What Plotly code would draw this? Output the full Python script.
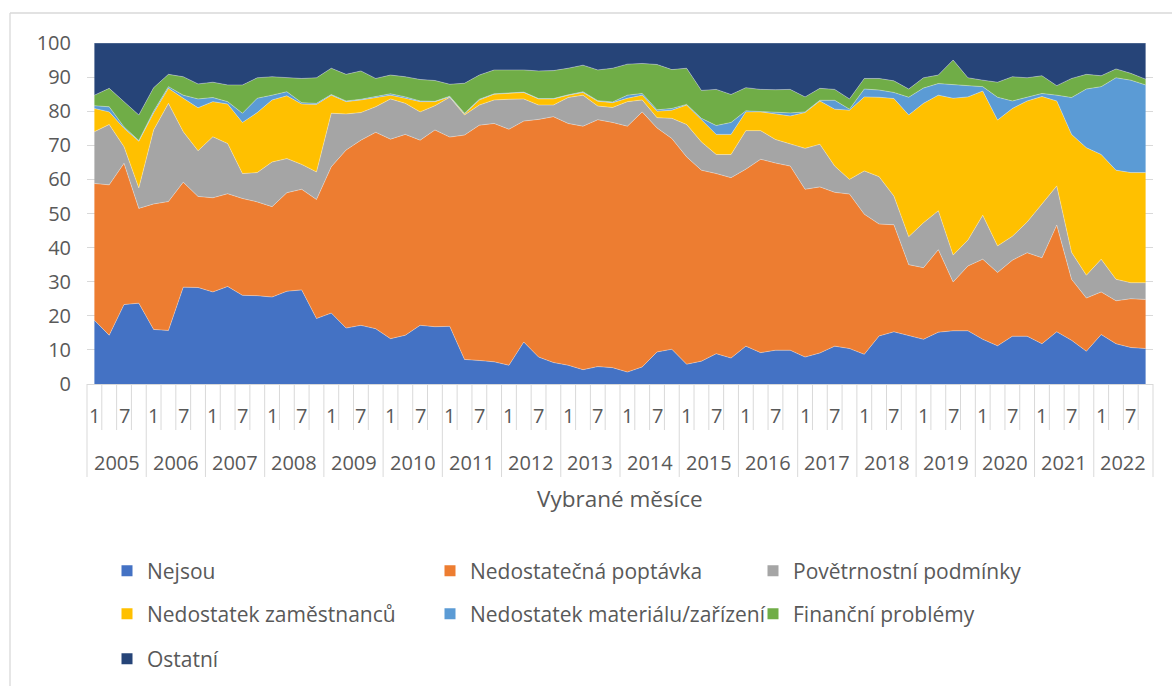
import plotly.graph_objects as go

years = list(range(2005, 2023))
months = [1, 4, 7, 10]
shown_months = [1, 7]

series_names = [
    "Nejsou",
    "Nedostatečná poptávka",
    "Povětrnostní podmínky",
    "Nedostatek zaměstnanců",
    "Nedostatek materiálu/zařízení",
    "Finanční problémy",
    "Ostatní",
]
colors = ["#4472C4", "#ED7D31", "#A5A5A5", "#FFC000", "#5B9BD5", "#70AD47", "#264478"]

nejsou = [18.7, 14.3, 23.3, 23.7, 16.0, 15.7, 28.4, 28.3, 27.0, 28.6, 26.0, 25.9,
          25.5, 27.2, 27.6, 19.2, 20.8, 16.4, 17.2, 16.2, 13.3, 14.3, 17.2, 16.8,
          16.9, 7.2, 6.9, 6.5, 5.5, 12.3, 7.9, 6.3, 5.5, 4.2, 5.1, 4.8,
          3.5, 5.0, 9.4, 10.2, 5.8, 6.7, 8.9, 7.6, 11.1, 9.2, 9.9, 9.9,
          7.9, 9.1, 11.1, 10.4, 8.7, 14.1, 15.3, 14.1, 13.1, 15.2, 15.6, 15.6,
          13.1, 11.2, 14.0, 14.0, 11.8, 15.3, 12.8, 9.6, 14.5, 11.8, 10.7, 10.4]
poptavka = [40.1, 44.1, 41.4, 27.8, 36.8, 37.8, 30.8, 26.7, 27.6, 27.2, 28.4, 27.5,
            26.5, 28.9, 29.5, 34.9, 42.9, 52.2, 54.3, 57.6, 58.5, 58.9, 54.3, 57.7,
            55.5, 65.8, 69.0, 69.9, 69.2, 64.8, 69.7, 72.1, 70.9, 71.4, 72.4, 71.9,
            72.1, 74.8, 65.7, 61.8, 60.8, 56.0, 52.8, 52.9, 51.9, 56.7, 54.9, 54.0,
            49.2, 48.7, 45.1, 45.3, 41.1, 32.8, 31.4, 20.9, 21.0, 24.2, 14.3, 19.0,
            23.5, 21.5, 22.3, 24.5, 25.2, 31.3, 17.9, 15.6, 12.5, 12.6, 14.3, 14.4]
pocasi = [15.2, 17.7, 4.9, 6.0, 21.7, 28.8, 14.8, 13.4, 17.9, 14.7, 7.3, 8.6,
          13.1, 10.0, 7.3, 8.1, 15.7, 10.6, 8.1, 7.5, 11.8, 9.1, 8.3, 7.1,
          11.7, 5.9, 5.9, 6.9, 8.8, 6.5, 4.2, 3.4, 7.6, 9.1, 4.0, 4.4,
          7.2, 3.5, 3.0, 5.9, 9.5, 8.3, 5.6, 6.8, 11.3, 8.4, 6.9, 6.6,
          12.0, 12.5, 7.7, 4.3, 12.7, 13.9, 8.4, 8.2, 13.2, 11.4, 7.9, 7.6,
          12.9, 7.8, 7.0, 9.0, 15.9, 11.5, 7.9, 6.7, 9.6, 6.3, 4.7, 4.9]
zamestnanci = [6.8, 3.7, 5.4, 13.7, 5.0, 4.4, 9.8, 12.6, 10.3, 11.6, 15.0, 17.6,
               18.2, 18.4, 17.7, 19.8, 5.3, 3.6, 3.7, 2.7, 1.1, 1.5, 3.0, 1.2,
               0.1, 0.3, 1.5, 1.7, 1.7, 1.9, 1.8, 1.8, 0.7, 0.8, 1.4, 1.4,
               1.0, 1.4, 1.9, 2.4, 5.7, 6.4, 5.9, 5.9, 5.5, 5.5, 7.5, 8.1,
               10.5, 12.7, 16.7, 20.3, 21.7, 23.3, 28.6, 35.7, 35.0, 33.9, 46.0, 42.0,
               36.4, 36.9, 37.5, 35.5, 31.4, 24.9, 34.6, 37.4, 30.7, 32.0, 32.3, 32.3]
material = [0.8, 1.5, 0.4, 0.2, 0.5, 0.5, 0.9, 2.6, 1.2, 0.7, 2.7, 4.2,
            1.4, 1.2, 0.4, 0.3, 0.2, 0.2, 0.2, 0.2, 0.4, 0.4, 0.2, 0.1,
            0.2, 0.2, 0.2, 0.1, 0.1, 0.1, 0.1, 0.1, 0.1, 0.2, 0.2, 0.2,
            0.9, 0.5, 0.4, 0.5, 0.2, 0.5, 2.6, 3.5, 0.3, 0.2, 0.5, 0.9,
            0.2, 0.2, 2.6, 0.3, 2.3, 2.1, 1.8, 5.2, 4.5, 3.4, 3.9, 3.3,
            1.3, 6.7, 2.2, 1.2, 0.9, 1.7, 10.8, 17.2, 19.9, 27.1, 27.1, 25.7]
financni = [3.1, 5.4, 7.4, 7.5, 6.9, 3.6, 5.4, 4.4, 4.5, 4.9, 8.3, 6.0,
            5.4, 4.2, 7.1, 7.5, 7.7, 7.8, 8.3, 5.4, 5.5, 5.9, 6.3, 6.1,
            3.5, 8.8, 7.1, 7.0, 6.8, 6.5, 8.1, 8.2, 7.8, 7.8, 9.0, 9.9,
            9.1, 8.8, 13.3, 11.4, 10.6, 8.2, 10.6, 8.2, 6.8, 6.4, 6.6, 6.9,
            4.4, 3.5, 3.2, 3.0, 3.1, 3.4, 3.4, 2.4, 3.0, 2.5, 7.3, 2.3,
            1.9, 4.4, 7.1, 5.6, 5.2, 2.8, 5.6, 4.3, 3.2, 2.6, 2.0, 1.7]
ostatni = [15.3, 13.3, 17.2, 21.1, 13.1, 9.2, 9.9, 12.0, 11.5, 12.3, 12.3, 10.2,
           9.9, 10.1, 10.4, 10.2, 7.4, 9.2, 8.2, 10.4, 9.4, 9.9, 10.7, 11.0,
           12.1, 11.8, 9.4, 7.9, 7.9, 7.9, 8.2, 8.1, 7.4, 6.5, 7.9, 7.4,
           6.2, 6.0, 6.3, 7.8, 7.4, 13.9, 13.6, 15.1, 13.1, 13.6, 13.7, 13.6,
           15.8, 13.3, 13.6, 16.4, 10.4, 10.4, 11.1, 13.5, 10.2, 9.4, 5.0, 10.2,
           10.9, 11.5, 9.9, 10.2, 9.6, 12.5, 10.4, 9.2, 9.6, 7.6, 8.9, 10.6]

series_values = [nejsou, poptavka, pocasi, zamestnanci, material, financni, ostatni]

n_cat = len(years) * len(months)
x_idx = list(range(n_cat))

# plot-area geometry (pixels)
W, H = 1172, 686
L, R, T, B = 87, 1153, 43, 384
pw, ph = R - L, B - T


def px2x(px):
    return (px - L) / pw


def py2y(py):
    return (B - py) / ph


GRID = "#D9D9D9"
TXT = "#595959"
FONT = "Open Sans"

fig = go.Figure()
for name, vals, col in zip(series_names, series_values, colors):
    fig.add_trace(go.Scatter(
        x=x_idx, y=vals, name=name, stackgroup="one", mode="lines",
        line=dict(width=0.6, color="rgba(255,255,255,0.55)"),
        fillcolor=col, showlegend=False, hoverinfo="name+y",
    ))

legend_rows = [["legend"] * 3, ["legend2"] * 3, ["legend3"]]
legend_ids = [lid for row in legend_rows for lid in row]
for name, col, lid in zip(series_names, colors, legend_ids):
    fig.add_trace(go.Scatter(
        x=[None], y=[None], name=name, mode="markers",
        marker=dict(symbol="square", size=11, color=col),
        legend=lid, showlegend=True,
    ))

shapes = []
# category tick marks & year dividers below the axis
for k in range(n_cat + 1):
    is_year = (k % len(months) == 0)
    shapes.append(dict(
        type="line", xref="paper", yref="paper",
        x0=k / n_cat, x1=k / n_cat, y0=0, y1=py2y(477 if is_year else 430),
        line=dict(color=GRID, width=1),
    ))
# chart border (left & top)
shapes.append(dict(type="line", xref="paper", yref="paper",
                   x0=px2x(10), x1=px2x(1180), y0=py2y(13), y1=py2y(13),
                   line=dict(color=GRID, width=1.3)))
shapes.append(dict(type="line", xref="paper", yref="paper",
                   x0=px2x(10), x1=px2x(10), y0=py2y(13), y1=py2y(700),
                   line=dict(color=GRID, width=1.3)))

annotations = []
for yi, yr in enumerate(years):
    for mi, m in enumerate(months):
        if m in shown_months:
            annotations.append(dict(
                x=yi * len(months) + mi, xref="x", y=py2y(415), yref="paper",
                text=str(m), showarrow=False, xanchor="center", yanchor="middle",
                font=dict(family=FONT, size=20, color=TXT),
            ))
    annotations.append(dict(
        x=yi * len(months) + (len(months) - 1) / 2, xref="x", y=py2y(462), yref="paper",
        text=str(yr), showarrow=False, xanchor="center", yanchor="middle",
        font=dict(family=FONT, size=20, color=TXT),
    ))
annotations.append(dict(
    x=0.5, xref="paper", y=py2y(498), yref="paper", text="Vybrané měsíce",
    showarrow=False, xanchor="center", yanchor="middle",
    font=dict(family=FONT, size=22.5, color=TXT),
))

leg_common = dict(orientation="h", xanchor="left", yanchor="middle",
                  entrywidth=278, entrywidthmode="pixels", itemwidth=30,
                  font=dict(family=FONT, size=21, color=TXT),
                  bgcolor="rgba(0,0,0,0)", traceorder="normal")

fig.update_layout(
    width=W, height=H,
    margin=dict(l=L, r=W - R, t=T, b=H - B, pad=0, autoexpand=False),
    paper_bgcolor="white", plot_bgcolor="white",
    showlegend=True,
    xaxis=dict(range=[-0.5, n_cat - 0.5], showticklabels=False, showgrid=False,
               zeroline=False, showline=True, linecolor=GRID, linewidth=1,
               ticks="", fixedrange=True),
    yaxis=dict(range=[0, 100], dtick=10, showgrid=True, gridcolor=GRID, gridwidth=1,
               zeroline=False, showline=False, ticks="",
               tickfont=dict(family=FONT, size=20, color=TXT),
               ticklabelstandoff=15, fixedrange=True),
    legend=dict(x=px2x(107), y=py2y(571), **leg_common),
    legend2=dict(x=px2x(107), y=py2y(614), **leg_common),
    legend3=dict(x=px2x(107), y=py2y(659), **leg_common),
    shapes=shapes,
    annotations=annotations,
)

fig.write_html("out.html", config={"displayModeBar": False},
               post_script="document.body.style.margin='0px';")
